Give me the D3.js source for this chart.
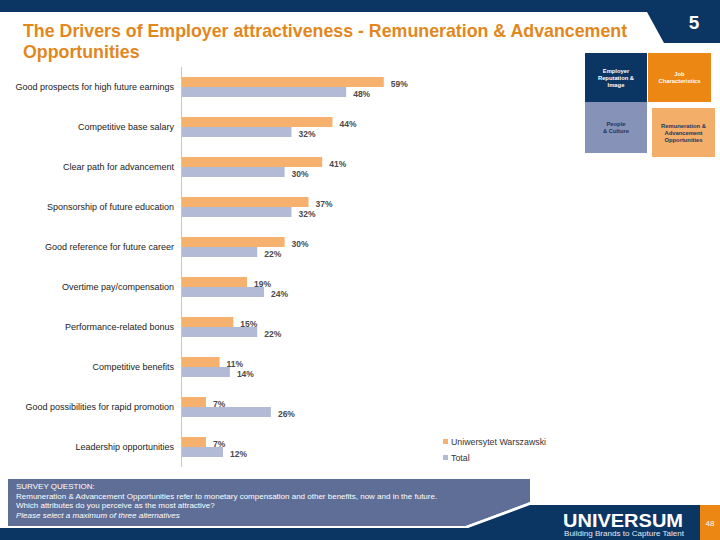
<!DOCTYPE html>
<html><head><meta charset="utf-8">
<script src="https://cdn.jsdelivr.net/npm/d3@7"></script>
<style>
html,body{margin:0;padding:0;background:#fff;}
svg{display:block;font-family:"Liberation Sans",Arial,sans-serif;}
</style></head>
<body><svg id="c" width="720" height="540"></svg>
<script>
const categories = [
  "Good prospects for high future earnings",
  "Competitive base salary",
  "Clear path for advancement",
  "Sponsorship of future education",
  "Good reference for future career",
  "Overtime pay/compensation",
  "Performance-related bonus",
  "Competitive benefits",
  "Good possibilities for rapid promotion",
  "Leadership opportunities"
];
const seriesNames = ["Uniwersytet Warszawski", "Total"];
const uwValues = [59, 44, 41, 37, 30, 19, 15, 11, 7, 7];
const totalValues = [48, 32, 30, 32, 22, 24, 22, 14, 26, 12];
const colors = ["#F5B16D", "#B3BAD6"];

const title = ["The Drivers of Employer attractiveness - Remuneration & Advancement", "Opportunities"];
const surveyLines = [
  "SURVEY QUESTION:",
  "Remuneration & Advancement Opportunities refer to monetary compensation and other benefits, now and in the future.",
  "Which attributes do you perceive as the most attractive?",
  "Please select a maximum of three alternatives"
];

const svg = d3.select("#c");
const navy = "#0B3563";

// top band with tab
svg.append("path").attr("d", "M0,0 H720 V43 H664 L647,12 H0 Z").attr("fill", navy);
svg.append("text").attr("x", 694).attr("y", 29).attr("text-anchor", "middle")
  .attr("fill", "#fff").attr("font-weight", "bold").attr("font-size", 19).text("5");

// title
svg.append("g").selectAll("text").data(title).join("text")
  .attr("x", 23).attr("y", (d, i) => 37 + i * 21)
  .attr("fill", "#E2871C").attr("font-weight", "bold").attr("font-size", 17.8)
  .text(d => d);

// category boxes
const boxes = [
  {x: 585, y: 53, w: 62, h: 49, fill: "#0B3563", tc: "#fff", lines: ["Employer", "Reputation &", "Image"]},
  {x: 648, y: 53, w: 63, h: 49, fill: "#EC8714", tc: "#fff", lines: ["Job", "Characteristics"]},
  {x: 585, y: 102, w: 62, h: 51, fill: "#8792B8", tc: "#1d3560", lines: ["People", "& Culture"]},
  {x: 652, y: 108, w: 63, h: 49, fill: "#F3AE6A", tc: "#1d3560", lines: ["Remuneration &", "Advancement", "Opportunities"]}
];
const bg = svg.append("g");
boxes.forEach(b => {
  bg.append("rect").attr("x", b.x).attr("y", b.y).attr("width", b.w).attr("height", b.h).attr("fill", b.fill);
  const n = b.lines.length;
  b.lines.forEach((l, i) => {
    bg.append("text").attr("x", b.x + b.w / 2).attr("y", b.y + b.h / 2 + (i - (n - 1) / 2) * 7 + 2)
      .attr("text-anchor", "middle").attr("fill", b.tc).attr("font-size", 5.8).attr("font-weight", "bold").text(l);
  });
});

// chart
const y = d3.scaleBand().domain(categories).range([67, 467]).paddingInner(0.5).paddingOuter(0.25);
const x = d3.scaleLinear().domain([0, 100]).range([182, 524]);
const bh = y.bandwidth() / 2;

svg.append("line").attr("x1", 181.5).attr("x2", 181.5).attr("y1", 67).attr("y2", 467)
  .attr("stroke", "#c8c8c8").attr("stroke-width", 1);

const series = [uwValues, totalValues];
series.forEach((vals, s) => {
  const g = svg.append("g");
  g.selectAll("rect").data(categories).join("rect")
    .attr("x", x(0)).attr("y", d => y(d) + s * bh)
    .attr("width", (d, i) => x(vals[i]) - x(0)).attr("height", bh)
    .attr("fill", colors[s]);
  g.selectAll("text").data(categories).join("text")
    .attr("x", (d, i) => x(vals[i]) + 7).attr("y", d => y(d) + s * bh + bh / 2 + 4.5)
    .attr("fill", "#4a4a4a").attr("font-size", 8.5).attr("font-weight", "bold")
    .text((d, i) => vals[i] + "%");
});

const yAxis = d3.axisLeft(y).tickSize(0).tickPadding(7);
const ax = svg.append("g").attr("transform", "translate(181,0)").call(yAxis);
ax.select(".domain").remove();
ax.selectAll("text").attr("font-size", 9).attr("fill", "#222").attr("font-family", "Liberation Sans, Arial, sans-serif");

// legend
const lg = svg.append("g");
seriesNames.forEach((n, i) => {
  lg.append("rect").attr("x", 443).attr("y", 439 + i * 16).attr("width", 5).attr("height", 5).attr("fill", colors[i]);
  lg.append("text").attr("x", 451).attr("y", 445 + i * 16).attr("font-size", 8.8).attr("fill", "#333").text(n);
});

// bottom
svg.append("path").attr("d", "M0,528 H468 L530,505 H720 V540 H0 Z").attr("fill", navy);
svg.append("path").attr("d", "M8,479 H530 V502 L466,526 H8 Z").attr("fill", "#5E6E96");
svg.append("path").attr("d", "M466,527 L531,503").attr("stroke", "#fff").attr("stroke-width", 2);
svg.append("rect").attr("x", 700).attr("y", 505).attr("width", 20).attr("height", 35).attr("fill", "#EC8714");
svg.append("text").attr("x", 710).attr("y", 526).attr("text-anchor", "middle").attr("fill", "#fff").attr("font-size", 8).text("48");
svg.append("text").attr("x", 563).attr("y", 527).attr("fill", "#fff").attr("font-weight", "bold").attr("font-size", 18)
  .attr("textLength", 120).attr("lengthAdjust", "spacingAndGlyphs").text("UNIVERSUM");
svg.append("text").attr("x", 564).attr("y", 536).attr("fill", "#e6e9f0").attr("font-size", 7)
  .attr("textLength", 120).attr("lengthAdjust", "spacingAndGlyphs").text("Building Brands to Capture Talent");

svg.append("g").selectAll("text").data(surveyLines).join("text")
  .attr("x", 16).attr("y", (d, i) => 489 + i * 9.6)
  .attr("fill", "#fff").attr("font-size", 8)
  .attr("font-style", (d, i) => i === 3 ? "italic" : "normal")
  .text(d => d);
</script>
</body></html>
